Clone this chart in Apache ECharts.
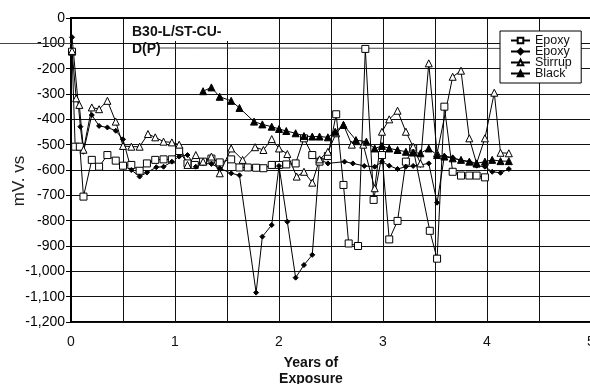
<!DOCTYPE html>
<html>
<head>
<meta charset="utf-8">
<script src="https://cdn.jsdelivr.net/npm/echarts@6/dist/echarts.min.js"></script>
<style>
  html, body { margin: 0; padding: 0; background: #fff; }
  #chart { width: 590px; height: 384px; }
</style>
</head>
<body>
<div id="chart"></div>
<script>
// Epoxy (open square)
const epoxyYears = [0.01, 0.04, 0.085, 0.12, 0.20, 0.27, 0.35, 0.43, 0.50, 0.58, 0.66, 0.73, 0.81, 0.89, 0.97,
  1.04, 1.12, 1.19, 1.27, 1.35, 1.43, 1.54, 1.62, 1.70, 1.78, 1.85, 1.93, 2.00, 2.07, 2.16, 2.24, 2.32, 2.39,
  2.47, 2.55, 2.62, 2.67, 2.76, 2.83, 2.91, 2.99, 3.06, 3.14, 3.22, 3.29, 3.45, 3.52, 3.59, 3.67, 3.75, 3.83,
  3.90, 3.98];
const epoxyMv = [-133, -508, -508, -705, -560, -587, -541, -563, -583, -580, -603, -574, -560, -558, -558,
  -525, -574, -580, -567, -555, -570, -558, -590, -590, -591, -593, -580, -580, -578, -574, -475, -541, -567,
  -545, -380, -659, -890, -900, -122, -718, -541, -874, -801, -567, -515, -840, -950, -350, -607, -622, -622,
  -622, -629];

// Epoxy (filled diamond)
const epoxy2Years = [0.01, 0.09, 0.12, 0.20, 0.27, 0.35, 0.43, 0.50, 0.58, 0.66, 0.73, 0.82, 0.89, 0.97,
  1.04, 1.12, 1.20, 1.27, 1.35, 1.43, 1.54, 1.62, 1.78, 1.84, 1.93, 2.00, 2.08, 2.16, 2.24, 2.32, 2.39,
  2.47, 2.63, 2.71, 2.82, 2.92, 2.99, 3.06, 3.14, 3.22, 3.29, 3.36, 3.44, 3.52, 3.59, 3.67, 3.75, 3.83,
  3.90, 3.98, 4.05, 4.13, 4.21];
const epoxy2Mv = [-76, -429, -528, -383, -426, -432, -445, -479, -600, -626, -610, -589, -587, -567,
  -547, -541, -587, -574, -576, -593, -613, -621, -1084, -863, -817, -584, -804, -1025, -975, -935, -558,
  -574, -567, -574, -584, -587, -567, -583, -596, -587, -584, -580, -574, -729, -545, -551, -563, -567,
  -583, -587, -607, -611, -596];

// Stirrup (open triangle)
const stirrupYears = [0.01, 0.05, 0.08, 0.12, 0.20, 0.27, 0.35, 0.43, 0.50, 0.58, 0.66, 0.74, 0.81, 0.89, 0.97,
  1.04, 1.12, 1.20, 1.27, 1.35, 1.43, 1.54, 1.65, 1.77, 1.85, 1.93, 2.00, 2.08, 2.17, 2.24, 2.32, 2.39,
  2.47, 2.55, 2.62, 2.70, 2.81, 2.92, 2.99, 3.06, 3.14, 3.22, 3.29, 3.36, 3.44, 3.52, 3.67, 3.75, 3.83,
  3.90, 3.98, 4.07, 4.13, 4.21];
const stirrupMv = [-130, -317, -343, -520, -353, -360, -327, -409, -505, -508, -508, -458, -471, -488, -491,
  -500, -580, -541, -567, -547, -613, -515, -560, -510, -521, -478, -515, -537, -626, -607, -650, -558,
  -528, -455, -422, -500, -500, -672, -449, -400, -366, -449, -508, -574, -179, -534, -232, -208, -475,
  -574, -475, -295, -532, -534];

// Black (filled triangle)
const blackYears = [1.27, 1.35, 1.43, 1.54, 1.62, 1.76, 1.84, 1.93, 2.00, 2.07, 2.16, 2.24, 2.32, 2.39,
  2.47, 2.54, 2.62, 2.74, 2.84, 2.92, 2.99, 3.06, 3.14, 3.22, 3.29, 3.36, 3.44, 3.52, 3.59, 3.67, 3.75,
  3.83, 3.90, 3.98, 4.05, 4.13, 4.21];
const blackMv = [-289, -274, -311, -327, -355, -409, -420, -429, -438, -446, -455, -466, -468, -468,
  -471, -449, -422, -482, -488, -515, -505, -515, -521, -528, -531, -534, -515, -541, -547, -554, -560,
  -567, -574, -567, -560, -565, -565];

const legendNames = ["Epoxy", "Epoxy ", "Stirrup", "Black"];
const yearTicks = [0, 1, 2, 3, 4, 5];

const zip = (xs, ys) => xs.map((x, i) => [x, ys[i]]);

const chart = echarts.init(document.getElementById("chart"));

const baseFont = "'Liberation Sans', Arial, sans-serif";

const makeSeries = (name, data, symbol, fill, size) => ({
  name: name,
  type: "line",
  data: data,
  symbol: symbol,
  symbolSize: size,
  showAllSymbol: true,
  lineStyle: { color: "#000", width: 1 },
  itemStyle: { color: fill, borderColor: "#000", borderWidth: 1 },
  emphasis: { disabled: true },
  animation: false,
});

const option = {
  animation: false,
  backgroundColor: "#fff",
  grid: {
    left: 71, top: 18, width: 520, height: 304,
    show: true, borderColor: "#000", borderWidth: 2,
    outerBoundsMode: "none",
  },
  xAxis: {
    type: "value",
    min: 0, max: 5, interval: 0.5,
    axisLine: { lineStyle: { color: "#000", width: 2 } },
    axisTick: { show: false },
    axisLabel: {
      margin: 13, fontSize: 14, color: "#111", fontFamily: baseFont,
      formatter: (v) => (yearTicks.includes(v) ? String(v) : ""),
    },
    splitLine: { show: true, lineStyle: { color: "#111", width: 1 } },
  },
  yAxis: {
    type: "value",
    min: -1200, max: 0, interval: 100,
    axisLine: { show: true, lineStyle: { color: "#000", width: 2 } },
    axisTick: { show: true, inside: false, length: 5, lineStyle: { color: "#000" } },
    axisLabel: { margin: 6, fontSize: 14, color: "#000", fontFamily: baseFont },
    splitLine: { show: true, lineStyle: { color: "#111", width: 1 } },
  },
  legend: {
    data: legendNames,
    orient: "vertical",
    left: 500, top: 31,
    padding: [3, 8, 3, 10],
    itemGap: -2,
    itemWidth: 19, itemHeight: 7,
    backgroundColor: "#fff",
    borderColor: "#000", borderWidth: 1,
    selectedMode: false,
    textStyle: {
      fontFamily: baseFont,
      fontSize: 12.5, lineHeight: 11, color: "#111",
    },
  },
  series: [
    makeSeries(legendNames[0], zip(epoxyYears, epoxyMv), "rect", "#fff", 7),
    makeSeries(legendNames[1], zip(epoxy2Years, epoxy2Mv), "diamond", "#000", 5),
    makeSeries(legendNames[2], zip(stirrupYears, stirrupMv), "triangle", "#fff", 7),
    makeSeries(legendNames[3], zip(blackYears, blackMv), "triangle", "#000", 7),
  ],
  graphic: [
    // scanner streak across the page
    { type: "line", z: 1, shape: { x1: 0, y1: 43.5, x2: 71, y2: 43.5 },
      style: { stroke: "#444", lineWidth: 1 } },
    { type: "line", z: 1, shape: { x1: 160, y1: 48, x2: 590, y2: 48.5 },
      style: { stroke: "#444", lineWidth: 1 } },
    { type: "rect", z: 2, shape: { x: 128, y: 19, width: 110, height: 22 },
      style: { fill: "#fff" } },
    { type: "text", z: 3, left: 132, top: 24,
      style: { text: "B30-L/ST-CU-\nD(P)", font: "bold 14px " + baseFont, lineHeight: 17, fill: "#111" } },
    { type: "text", z: 3, x: 19, y: 181, rotation: Math.PI / 2,
      style: { text: "mV. vs", font: "17px " + baseFont, fill: "#222", align: "center", verticalAlign: "middle" } },
    { type: "text", z: 3, x: 311, y: 355,
      style: { text: "Years of\nExposure", font: "bold 14px " + baseFont, lineHeight: 16,
        fill: "#111", align: "center", verticalAlign: "top" } },
  ],
};

chart.setOption(option);
</script>
</body>
</html>
